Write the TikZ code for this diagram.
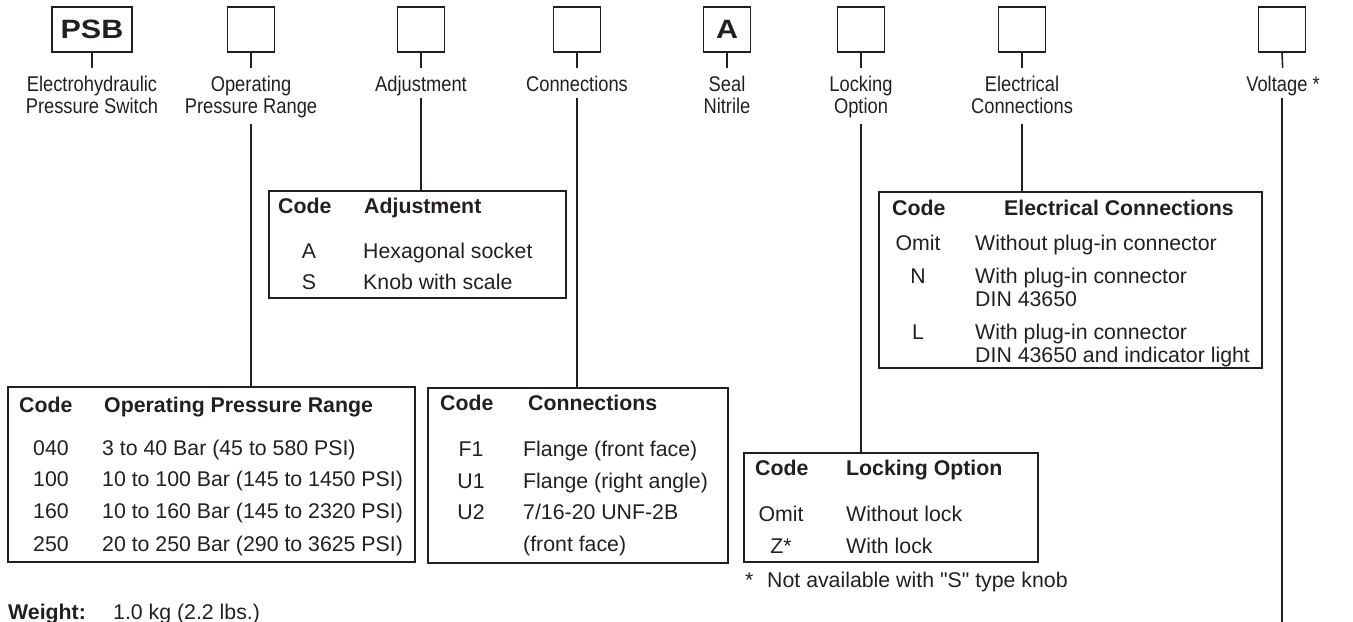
\documentclass[tikz,border=0pt]{standalone}
\usepackage{fontspec}
\setmainfont{Liberation Sans}
\newfontfamily\condfont[FakeStretch=0.86]{Liberation Sans}
\newfontfamily\widefont[FakeStretch=1.15]{Liberation Sans}
\usepackage{tikz}
\definecolor{ink}{RGB}{35,31,32}

\tikzset{
  codebox/.style={draw=ink, line width=1.6bp, inner sep=0pt, minimum width=47bp, minimum height=45bp,
    text=ink, font=\widefont\bfseries\fontsize{26.5bp}{28bp}\selectfont},
  field/.style={inner sep=0pt, anchor=north, align=center, text depth=0pt, text=ink,
    font=\condfont\fontsize{21.3bp}{22bp}\selectfont},
  tabbox/.style={draw=ink, line width=1.6bp, inner sep=0pt},
  cell/.style={inner sep=0pt, anchor=base west, text=ink, font=\fontsize{21.3bp}{25bp}\selectfont},
  code/.style={cell, anchor=base},
  head/.style={cell, font=\fontsize{21.3bp}{25bp}\selectfont\bfseries},
  wire/.style={draw=ink, line width=1.6bp},
}

\begin{document}
\begin{tikzpicture}[x=1bp, y=-1bp]
        \useasboundingbox (0,0) rectangle (1353,622);

        % Code boxes along the top
        \node[codebox, minimum width=80bp] (psbBox) at (92,29.5) {PSB};
        \node[codebox] (opBox) at (251,29.5) {};
        \node[codebox] (adjBox) at (421,29.5) {};
        \node[codebox] (connBox) at (577,29.5) {};
        \node[codebox] (sealBox) at (727,29.5) {A};
        \node[codebox] (lockBox) at (861,29.5) {};
        \node[codebox] (elecBox) at (1022,29.5) {};
        \node[codebox] (voltBox) at (1282,29.5) {};

        % Field names
        \node[field] (psbLab) at (92,75.8) {Electrohydraulic\\Pressure Switch};
        \node[field] (opLab) at (251,75.8) {Operating\\Pressure Range};
        \node[field] (adjLab) at (421,75.8) {Adjustment};
        \node[field] (connLab) at (577,75.8) {Connections};
        \node[field] (sealLab) at (727,75.8) {Seal\\Nitrile};
        \node[field] (lockLab) at (861,75.8) {Locking\\Option};
        \node[field] (elecLab) at (1022,75.8) {Electrical\\Connections};
        \node[field] (voltLab) at (1283,75.8) {Voltage *};

        \foreach \n in {psb,op,adj,conn,seal,lock,elec,volt}
            \draw[wire, shorten >=8bp] (\n Box.south) -- (\n Lab.north);

        % Adjustment table
        \node[tabbox, minimum width=297bp, minimum height=107bp] (adjTab) at (417.5,244.5) {};
        \node[head] (adjHc) at (278,213) {Code};
        \node[head] (adjHd) at (364,213) {Adjustment};
        \foreach \c/\d/\y [count=\i] in {A/Hexagonal socket/258, S/Knob with scale/289} {
            \node[code] (adjC\i) at (309,\y) {\c};
            \node[cell] (adjD\i) at (363,\y) {\d};
        }

        % Electrical connections table
        \node[tabbox, minimum width=383bp, minimum height=176bp] (elecTab) at (1070.5,280) {};
        \node[head] (elecHc) at (892,215) {Code};
        \node[head] (elecHd) at (1004,215) {Electrical Connections};
        \node[code] (elecC1) at (918,250) {Omit};
        \node[cell] (elecD1) at (975,250) {Without plug-in connector};
        \node[code] (elecC2) at (918,283) {N};
        \node[cell] (elecD2) at (975,283) {With plug-in connector};
        \node[cell] (elecE2) at (975,306) {DIN 43650};
        \node[code] (elecC3) at (918,339) {L};
        \node[cell] (elecD3) at (975,339) {With plug-in connector};
        \node[cell] (elecE3) at (975,362) {DIN 43650 and indicator light};

        % Operating pressure range table
        \node[tabbox, minimum width=407bp, minimum height=175bp] (opTab) at (211.5,474.5) {};
        \node[head] (opHc) at (19,412) {Code};
        \node[head] (opHd) at (104,412) {Operating Pressure Range};
        \foreach \c/\d/\y [count=\i] in {040/3 to 40 Bar (45 to 580 PSI)/455,
                100/10 to 100 Bar (145 to 1450 PSI)/486,
                160/10 to 160 Bar (145 to 2320 PSI)/518,
                250/20 to 250 Bar (290 to 3625 PSI)/551} {
            \node[code] (opC\i) at (51,\y) {\c};
            \node[cell] (opD\i) at (102,\y) {\d};
        }

        % Connections table
        \node[tabbox, minimum width=300bp, minimum height=175bp] (connTab) at (578,475.5) {};
        \node[head] (connHc) at (440,410) {Code};
        \node[head] (connHd) at (528,410) {Connections};
        \foreach \c/\d/\y [count=\i] in {F1/Flange (front face)/456,
                U1/Flange (right angle)/488, U2/{7/16-20 UNF-2B}/519} {
            \node[code] (connC\i) at (471,\y) {\c};
            \node[cell] (connD\i) at (523,\y) {\d};
        }
        \node[cell] (connE3) at (523,551) {(front face)};

        % Locking option table
        \node[tabbox, minimum width=294bp, minimum height=109bp] (lockTab) at (891,507.5) {};
        \node[head] (lockHc) at (755,475) {Code};
        \node[head] (lockHd) at (846,475) {Locking Option};
        \node[code] (lockC1) at (781,521) {Omit};
        \node[cell] (lockD1) at (846,521) {Without lock};
        \node[code] (lockC2) at (781,553) {Z*};
        \node[cell] (lockD2) at (846,553) {With lock};
        \node[cell] (noteStar) at (745,587) {*};
        \node[cell] (note) at (767,587) {Not available with \textquotedbl S\textquotedbl\ type knob};

        % Weight
        \node[head] (wLab) at (8,619) {Weight:};
        \node[cell] (wVal) at (113,619) {1.0 kg (2.2 lbs.)};

        % Drop lines to the tables
        \coordinate (voltEnd) at (1282,622);
        \draw[wire, shorten <=10bp] (opLab.south) -- (opLab.south |- opTab.north);
        \draw[wire, shorten <=6bp] (adjLab.south) -- (adjLab.south |- adjTab.north);
        \draw[wire, shorten <=6bp] (connLab.south) -- (connLab.south |- connTab.north);
        \draw[wire, shorten <=10bp] (lockLab.south) -- (lockLab.south |- lockTab.north);
        \draw[wire, shorten <=10bp] (elecLab.south) -- (elecLab.south |- elecTab.north);
        \draw[wire, shorten <=6bp] (voltBox.south |- voltLab.south) -- (voltEnd);
\end{tikzpicture}
\end{document}
